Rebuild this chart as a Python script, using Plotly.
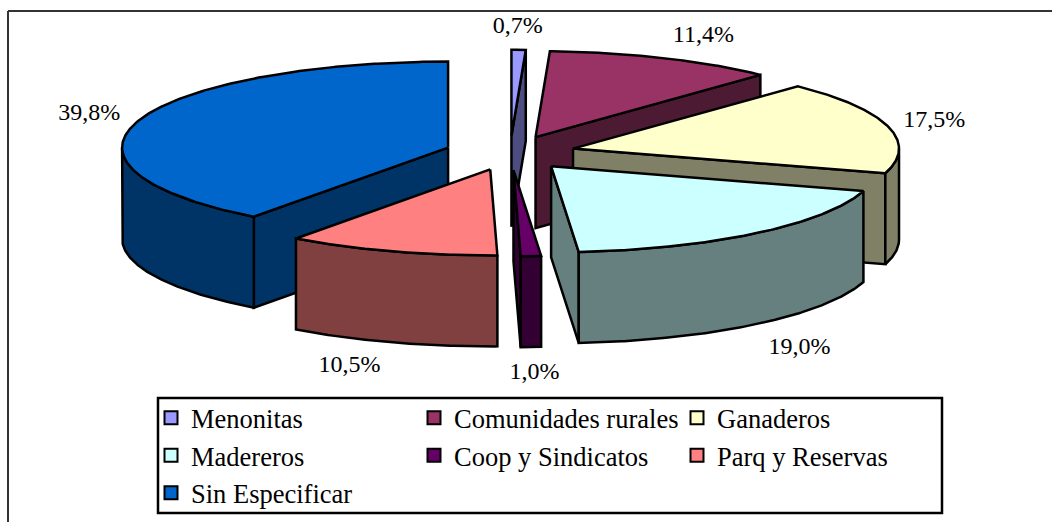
import numpy as np
import plotly.graph_objects as go

categories = ["Menonitas", "Comunidades rurales", "Ganaderos", "Madereros",
              "Coop y Sindicatos", "Parq y Reservas", "Sin Especificar"]
values = [0.7, 11.4, 17.5, 19.0, 1.0, 10.5, 39.8]

top_colors = ["#9999FF", "#993366", "#FFFFCC", "#CCFFFF", "#660066", "#FF8080", "#0066CC"]
side_colors = ["#4D4D80", "#4D1A33", "#808066", "#668080", "#330033", "#804040", "#003366"]
draw_order = [0, 1, 6, 2, 3, 5, 4]
label_nudge = [(-2, -10), (21, -10), (-1, -2), (12, 14), (1, 13), (-27, 11), (-3, -3)]

FONT = "Liberation Serif, Times New Roman, serif"
CX, CY, RX, RY, DEPTH, PULL = 510, 153, 326, 86, 91, 0.2
PLOT_W = 1042  # plot area narrower than the page so the legend wraps after three columns

total = sum(values)
edges = np.concatenate([[0], np.cumsum(values)]) * 360.0 / total


def pt(apex, deg, k=1.0):
    t = np.radians(deg)
    return apex[0] + k * RX * np.sin(t), apex[1] - k * RY * np.cos(t)


def arc(apex, a, b):
    t = np.radians(np.linspace(a, b, max(int(abs(b - a)) * 2, 2)))
    return apex[0] + RX * np.sin(t), apex[1] - RY * np.cos(t)


def poly(xs, ys, fill, name):
    return go.Scatter(x=list(xs) + [xs[0]], y=list(ys) + [ys[0]], mode="lines", fill="toself",
                      fillcolor=fill, line=dict(color="black", width=2.5), name=name,
                      hoverinfo="skip", showlegend=False)


fig = go.Figure()
label_x, label_y = [], []
apexes = []
for i in range(len(values)):
    mid = (edges[i] + edges[i + 1]) / 2
    apexes.append(pt((CX, CY), mid, PULL))

for i in draw_order:
    a, b = edges[i], edges[i + 1]
    apex = apexes[i]
    name = categories[i]
    # visible radial side faces
    for deg, visible in ((a, np.sin(np.radians(a)) < -1e-6), (b, np.sin(np.radians(b)) > 1e-6)):
        if visible:
            ex, ey = pt(apex, deg)
            fig.add_trace(poly([apex[0], ex, ex, apex[0]],
                               [apex[1], ey, ey + DEPTH, apex[1] + DEPTH], side_colors[i], name))
    # visible outer wall
    lo, hi = max(a, 90), min(b, 270)
    if hi > lo:
        wx, wy = arc(apex, lo, hi)
        fig.add_trace(poly(np.r_[wx, wx[::-1]], np.r_[wy, wy[::-1] + DEPTH], side_colors[i], name))
    # top face
    tx, ty = arc(apex, a, b)
    fig.add_trace(poly(np.r_[apex[0], tx], np.r_[apex[1], ty], top_colors[i], name))

for i in range(len(values)):
    mid = (edges[i] + edges[i + 1]) / 2
    lx, ly = pt(apexes[i], mid, 1.15)
    if np.cos(np.radians(mid)) < 0:
        ly += DEPTH
    label_x.append(lx + label_nudge[i][0])
    label_y.append(ly + label_nudge[i][1])

fig.add_trace(go.Scatter(x=label_x, y=label_y, mode="text",
                         text=[f"{v:.1f}%".replace(".", ",") for v in values],
                         textposition="middle center",
                         textfont=dict(family=FONT, size=24, color="black"),
                         hoverinfo="skip", showlegend=False))

for name, color in zip(categories, top_colors):
    fig.add_trace(go.Scatter(x=[None], y=[None], mode="markers", name=name,
                             marker=dict(symbol="square", size=13, color=color,
                                         line=dict(color="black", width=2))))

fig.update_layout(
    width=1052, height=522, margin=dict(l=0, r=1052 - PLOT_W, t=0, b=0, autoexpand=False),
    paper_bgcolor="white", plot_bgcolor="white",
    xaxis=dict(range=[0, PLOT_W], visible=False, fixedrange=True),
    yaxis=dict(range=[522, 0], visible=False, fixedrange=True),
    legend=dict(orientation="h", x=151 / PLOT_W, y=1 - 394 / 522, xanchor="left", yanchor="top",
                entrywidth=218, entrywidthmode="pixels", bgcolor="rgba(0,0,0,0)",
                font=dict(family=FONT, size=26.5, color="black"), itemwidth=30),
    shapes=[
        dict(type="rect", xref="paper", yref="paper", x0=158 / PLOT_W, x1=942 / PLOT_W,
             y0=1 - 398 / 522, y1=1 - 513 / 522, line=dict(color="black", width=2.5), fillcolor="white",
             layer="below"),
        dict(type="line", xref="paper", yref="paper", x0=8 / PLOT_W, x1=8 / PLOT_W,
             y0=0, y1=1 - 11 / 522, line=dict(color="#333333", width=2)),
        dict(type="line", xref="paper", yref="paper", x0=8 / PLOT_W, x1=1052 / PLOT_W,
             y0=1 - 11 / 522, y1=1 - 11 / 522, line=dict(color="#333333", width=2)),
    ],
)

fig.write_html("out.html", config={"displayModeBar": False},
               post_script="document.body.style.margin='0';document.documentElement.style.overflow='hidden';")
